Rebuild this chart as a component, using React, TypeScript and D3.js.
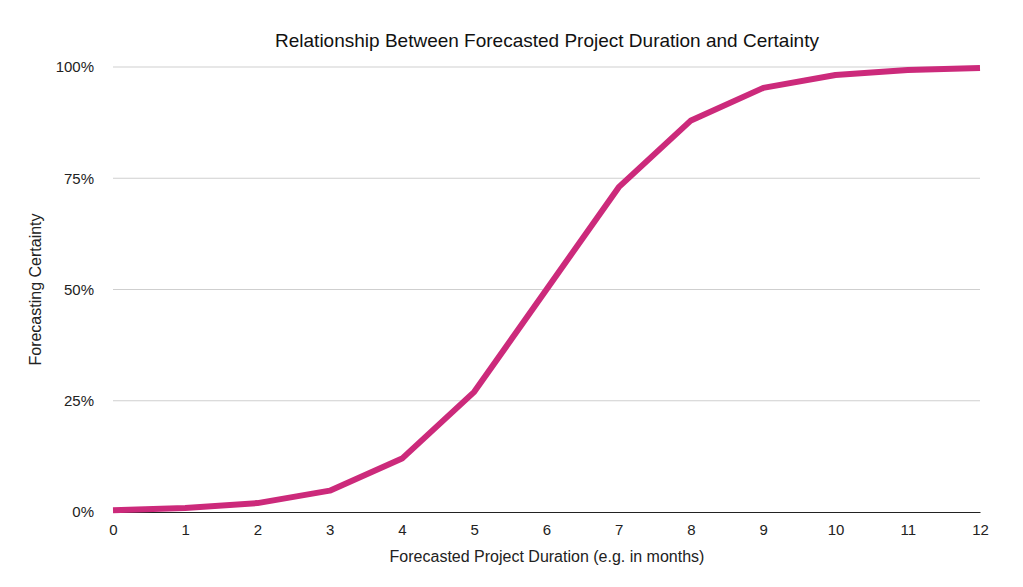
import { useEffect, useRef } from 'react';
import * as d3 from 'd3';

// Forecasted project duration (months) vs. forecasting certainty
const durations = [0, 1, 2, 3, 4, 5, 6, 7, 8, 9, 10, 11, 12];
const certainty = [0.004, 0.009, 0.02, 0.048, 0.12, 0.27, 0.5, 0.73, 0.88, 0.953, 0.982, 0.993, 0.998];
const yTickValues = [0, 0.25, 0.5, 0.75, 1];

const WIDTH = 1023;
const HEIGHT = 587;
const FONT = '"Liberation Sans", Arial, Helvetica, sans-serif';

export default function App() {
  const svgRef = useRef<SVGSVGElement>(null);

  useEffect(() => {
    if (!svgRef.current) return;
    const svg = d3.select(svgRef.current);
    svg.selectAll('*').remove();

    const margin = { top: 67, right: 43, bottom: 75, left: 113 };
    const innerWidth = WIDTH - margin.left - margin.right;
    const innerHeight = HEIGHT - margin.top - margin.bottom;

    svg.attr('width', WIDTH).attr('height', HEIGHT);

    const g = svg.append('g').attr('transform', `translate(${margin.left},${margin.top})`);

    const x = d3.scaleLinear().domain([0, 12]).range([0, innerWidth]);
    const y = d3.scaleLinear().domain([0, 1]).range([innerHeight, 0]);

    // Grid lines
    g.selectAll('.grid-y')
      .data(yTickValues.filter((d) => d > 0))
      .enter()
      .append('line')
      .attr('x1', 0)
      .attr('x2', innerWidth)
      .attr('y1', (d) => y(d))
      .attr('y2', (d) => y(d))
      .attr('stroke', '#cfcfcf')
      .attr('stroke-width', 1);

    // Y axis labels (no axis line)
    const yAxis = g
      .append('g')
      .call(
        d3
          .axisLeft(y)
          .tickValues(yTickValues)
          .tickSize(0)
          .tickPadding(19)
          .tickFormat((d) => `${Math.round(+d * 100)}%`),
      );
    yAxis.select('.domain').remove();
    yAxis
      .selectAll('text')
      .attr('fill', '#222')
      .attr('font-size', '15px')
      .attr('font-family', FONT);

    // X axis
    const xAxis = g
      .append('g')
      .attr('transform', `translate(0,${innerHeight})`)
      .call(d3.axisBottom(x).tickValues(durations).tickSize(0).tickPadding(12));
    xAxis.select('.domain').attr('stroke', '#222').attr('stroke-width', 1.2);
    xAxis
      .selectAll('text')
      .attr('fill', '#222')
      .attr('font-size', '15px')
      .attr('font-family', FONT);

    // Line
    const line = d3
      .line<number>()
      .x((_, i) => x(durations[i]))
      .y((d) => y(d));

    g.append('path')
      .datum(certainty)
      .attr('d', line)
      .attr('fill', 'none')
      .attr('stroke', '#cc2a7b')
      .attr('stroke-width', 6)
      .attr('stroke-linejoin', 'round');

    // Title
    svg
      .append('text')
      .attr('x', 547)
      .attr('y', 47)
      .attr('text-anchor', 'middle')
      .attr('fill', '#111')
      .attr('font-size', '19px')
      .attr('font-family', FONT)
      .text('Relationship Between Forecasted Project Duration and Certainty');

    // Axis titles
    svg
      .append('text')
      .attr('x', 547)
      .attr('y', 562)
      .attr('text-anchor', 'middle')
      .attr('fill', '#222')
      .attr('font-size', '16px')
      .attr('font-family', FONT)
      .text('Forecasted Project Duration (e.g. in months)');

    svg
      .append('text')
      .attr('transform', `translate(41,${margin.top + innerHeight / 2}) rotate(-90)`)
      .attr('text-anchor', 'middle')
      .attr('fill', '#222')
      .attr('font-size', '16px')
      .attr('font-family', FONT)
      .text('Forecasting Certainty');
  }, []);

  return (
    <svg
      ref={svgRef}
      style={{ position: 'absolute', left: 0, top: 0, background: '#fff', display: 'block' }}
    />
  );
}
